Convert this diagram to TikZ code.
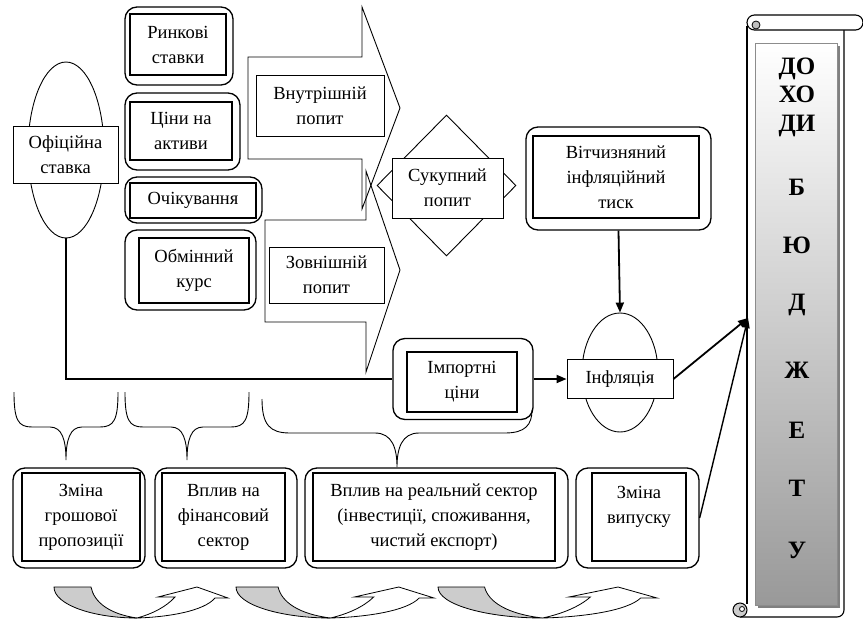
\documentclass[tikz,border=0pt]{standalone}
\usepackage{fontspec}
\setmainfont{Liberation Serif}
\usetikzlibrary{shapes.geometric,arrows.meta}

\begin{document}
\begin{tikzpicture}[x=1pt,y=-1pt]
\tikzstyle{frame}=[rectangle,rounded corners=12pt,draw=black,line width=1.3pt,inner sep=0pt]
\tikzstyle{inbox}=[rectangle,draw=black,line width=1.3pt,fill=white,inner sep=0pt,align=center,font=\fontsize{18.5}{25}\selectfont]
\tikzstyle{plain}=[inbox,line width=0.9pt]
\tikzstyle{oval}=[ellipse,draw=black,line width=0.9pt,inner sep=0pt]
\tikzstyle{rhomb}=[diamond,draw=black,line width=0.9pt,inner sep=0pt,fill=white]
\tikzstyle{block}=[draw=black,line width=0.9pt]
\tikzstyle{brace}=[draw=black,line width=0.9pt]
\tikzstyle{arrow}=[-{Triangle[length=10pt,width=8pt]},line width=1.8pt]
\tikzstyle{letter}=[align=center,inner sep=0pt,font=\fontsize{25}{28.5}\bfseries\selectfont]
\tikzset{pics/turn/.style={code={
  \draw[line width=0.8pt,fill=black!20] (0,0) -- (37,0) .. controls (40,15) and (55,27) .. (83,31) .. controls (40,31) and (0,18) .. (0,0) -- cycle;
  \draw[line width=0.8pt,fill=white] (83,31) .. controls (115,30) and (150,24) .. (161,11) -- (174,11) -- (143,0) -- (104,10) -- (121,10) .. controls (112,20) and (98,27) .. (83,31) -- cycle;
}}}

\useasboundingbox (0,0) rectangle (863,619);

% big arrows
\draw[block] (248,57) -- (362,57) -- (362,7) -- (400,108) -- (362,209) -- (362,159) -- (248,159) -- cycle;
\draw[block] (265,220) -- (366,220) -- (366,171) -- (400,270) -- (366,372) -- (366,322) -- (265,322) -- cycle;

% official rate
\node[oval,minimum width=76pt,minimum height=176pt] (offell) at (66,150) {};
\node[plain,minimum width=105pt,minimum height=57pt] (off) at (65.5,154.5) {Офіційна\\ставка};

% channels
\node[frame,minimum width=108pt,minimum height=78pt] (mktout) at (179,46) {};
\node[inbox,minimum width=96pt,minimum height=61pt] (mkt) at (178,44.5) {Ринкові\\ставки};
\node[frame,minimum width=115pt,minimum height=77pt] (assout) at (182.5,131.5) {};
\node[inbox,minimum width=102pt,minimum height=58pt] (ass) at (181,131) {Ціни на\\активи};
\node[frame,minimum width=137pt,minimum height=46pt] (expout) at (193.5,200) {};
\node[inbox,minimum width=126pt,minimum height=35pt] (exp) at (193,200.5) {Очікування};
\node[frame,minimum width=131pt,minimum height=80pt] (fxout) at (190.5,270) {};
\node[inbox,minimum width=110pt,minimum height=65pt] (fx) at (194,270.5) {Обмінний\\курс};

\node[plain,minimum width=128pt,minimum height=61pt] (dem) at (320,105.5) {Внутрішній\\попит};
\node[plain,minimum width=115pt,minimum height=56pt] (ext) at (326.5,275) {Зовнішній\\попит};

\node[rhomb,minimum width=139pt,minimum height=141pt] (aggdia) at (446.5,185.5) {};
\node[plain,minimum width=111pt,minimum height=60pt] (agg) at (447.5,188) {Сукупний\\попит};

\node[frame,minimum width=185pt,minimum height=103pt] (domout) at (618.5,178.5) {};
\node[inbox,minimum width=166pt,minimum height=82pt] (dom) at (616,177) {Вітчизняний\\інфляційний\\тиск};

\node[frame,minimum width=140pt,minimum height=81pt] (impout) at (463,379) {};
\node[inbox,minimum width=110pt,minimum height=60pt] (imp) at (462,382) {Імпортні\\ціни};

\node[oval,minimum width=76pt,minimum height=119pt] (inflell) at (620,372.5) {};
\node[plain,minimum width=106pt,minimum height=39pt] (infl) at (620,379) {Інфляція};

% braces
\draw[brace] (14,392) .. controls (14,420) and (18,427) .. (32,427) -- (50,427) .. controls (62,427) and (66,440) .. (66,460) .. controls (66,440) and (70,427) .. (82,427) -- (100,427) .. controls (114,427) and (118,420) .. (118,392);
\draw[brace] (125,392) .. controls (125,420) and (129,427) .. (143,427) -- (171,427) .. controls (183,427) and (187,440) .. (187,460) .. controls (187,440) and (191,427) .. (203,427) -- (231,427) .. controls (245,427) and (249,420) .. (249,392);
\draw[brace] (262,399) .. controls (262,425) and (270,433) .. (290,433) -- (375,433) .. controls (392,433) and (397,448) .. (397,467) .. controls (397,448) and (402,433) .. (419,433) -- (505,433) .. controls (525,433) and (532,425) .. (532,410);

% stages
\node[frame,minimum width=132pt,minimum height=100pt] (moneyout) at (79,518) {};
\node[inbox,minimum width=118pt,minimum height=88pt] (money) at (81,517) {Зміна\\грошової\\пропозиції};
\node[frame,minimum width=142pt,minimum height=100pt] (finout) at (226,518) {};
\node[inbox,minimum width=123pt,minimum height=88pt] (fin) at (223.5,517) {Вплив на\\фінансовий\\сектор};
\node[frame,minimum width=263pt,minimum height=100pt] (realout) at (436.5,518) {};
\node[inbox,minimum width=242pt,minimum height=88pt] (real) at (434,517) {Вплив на реальний сектор\\(інвестиції, споживання,\\чистий експорт)};
\node[frame,minimum width=123pt,minimum height=100pt] (outout) at (637.5,518) {};
\node[inbox,minimum width=94pt,minimum height=88pt] (output) at (639,517) {Зміна\\випуску\\\mbox{}};

\pic at (54,587) {turn};
\pic[xscale=1.138] at (236,587) {turn};
\pic[xscale=1.259] at (438,587) {turn};

% budget scroll
\draw[line width=1.1pt] (747,26) -- (747,604);
\draw[line width=1.1pt,rounded corners=7pt] (844,30) -- (844,617) -- (740,617);
\draw[line width=1.1pt,fill=white,rounded corners=7.5pt] (747,15) rectangle (863,30);
\draw[line width=0.8pt,fill=black!25] (756,25) circle (4pt);
\draw[line width=1pt,fill=black!20] (740,610) circle (7pt);
\draw[line width=0.8pt,fill=white] (742,609) circle (2.5pt);
\fill[black!50] (758,46) rectangle (840,608);
\draw[black!45,top color=white,bottom color=black!40] (755,43) rectangle (837,605);
\node[letter] (bdohodi) at (797,97) {ДО\\ХО\\ДИ};
\node[letter] (bb) at (797,187) {Б};
\node[letter] (bju) at (797,245) {Ю};
\node[letter] (bd) at (797,305) {Д};
\node[letter] (bzh) at (797,370) {Ж};
\node[letter] (be) at (797,430) {Е};
\node[letter] (bt) at (797,488) {Т};
\node[letter] (bu) at (797,550) {У};
\coordinate (budin) at (748,318);

% links
\draw[line width=2.2pt] (offell.south) |- (impout.west);
\draw[arrow] (impout.east) -- (infl.west);
\draw[arrow] (domout.south) -- (inflell.north);
\draw[arrow] (infl.east) -- (budin);
\draw[arrow,line width=1.4pt] (outout.east) -- (budin);
\end{tikzpicture}
\end{document}
